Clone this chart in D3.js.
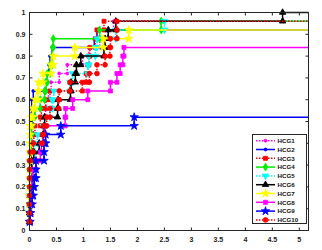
<!DOCTYPE html>
<html><head><meta charset="utf-8">
<script src="https://cdn.jsdelivr.net/npm/d3@7"></script>
<style>body{margin:0;background:#fff}svg{display:block}</style>
</head><body>
<svg id="c" width="322" height="250"></svg>
<script>
const xTicks = [0,0.5,1,1.5,2,2.5,3,3.5,4,4.5,5];
const yTicks = [0,0.1,0.2,0.3,0.4,0.5,0.6,0.7,0.8,0.9,1];
const seriesNames = ["HCG1","HCG2","HCG3","HCG4","HCG5","HCG6","HCG7","HCG8","HCG9","HCG10"];

const hcg1X = [0,0,0.01,0.01,0.02,0.02,0.03,0.03,0.05,0.06,0.06,0.07,0.07,0.3,0.3,0.35,0.4,0.55,0.7,0.98,1.1,1.3,1.45,1.56];
const hcg1Y = [0.04,0.08,0.12,0.16,0.2,0.24,0.28,0.32,0.36,0.4,0.44,0.48,0.52,0.56,0.6,0.64,0.68,0.72,0.76,0.8,0.84,0.88,0.92,0.96];
const hcg2X = [0,0,0,0.01,0.01,0.01,0.01,0.02,0.02,0.02,0.02,0.02,0.03,0.03,0.04,0.07,0.3,0.33,0.36,0.38,0.42,1.2,1.25];
const hcg2Y = [0.04,0.08,0.12,0.16,0.2,0.24,0.28,0.32,0.36,0.4,0.44,0.48,0.52,0.56,0.6,0.64,0.68,0.72,0.76,0.8,0.84,0.88,0.92];
const hcg3X = [0,0,0,0.01,0.01,0.01,0.02,0.02,0.03,0.05,0.08,0.1,0.2,0.22,0.3,0.38,0.98,1.05,1.08,1.1,1.12,1.22,1.25,1.38];
const hcg3Y = [0.04,0.08,0.12,0.16,0.2,0.24,0.28,0.32,0.36,0.4,0.44,0.48,0.52,0.56,0.6,0.64,0.68,0.72,0.76,0.8,0.84,0.88,0.92,0.96];
const hcg4X = [0,0,0,0.01,0.01,0.01,0.02,0.02,0.02,0.03,0.03,0.04,0.05,0.1,0.2,0.28,0.3,0.33,0.38,0.42,0.43,0.44,1.3,2.44];
const hcg4Y = [0.04,0.08,0.12,0.16,0.2,0.24,0.28,0.32,0.36,0.4,0.44,0.48,0.52,0.56,0.6,0.64,0.68,0.72,0.76,0.8,0.84,0.88,0.92,0.96];
const hcg5X = [0,0,0.01,0.01,0.02,0.02,0.03,0.04,0.06,0.1,0.15,0.25,0.3,0.38,0.42,0.45,0.75,0.8,1.08,1.1,1.22,1.25,1.6,2.5];
const hcg5Y = [0.04,0.08,0.12,0.16,0.2,0.24,0.28,0.32,0.36,0.4,0.44,0.48,0.52,0.56,0.6,0.64,0.68,0.72,0.76,0.8,0.84,0.88,0.92,0.96];
const hcg6X = [0,0,0.01,0.01,0.02,0.02,0.02,0.04,0.08,0.18,0.25,0.27,0.28,0.52,0.53,0.76,0.77,0.85,0.87,0.95,1.38,1.4,1.46,1.6,4.69];
const hcg6Y = [0.04,0.08,0.12,0.16,0.2,0.24,0.28,0.32,0.36,0.4,0.44,0.48,0.52,0.56,0.6,0.64,0.68,0.72,0.76,0.8,0.84,0.88,0.92,0.96,1.0];
const hcg7X = [0,0,0,0,0,0.01,0.01,0.01,0.01,0.01,0.01,0.01,0.03,0.06,0.1,0.16,0.17,0.25,0.4,0.44,0.84,1.37,1.84];
const hcg7Y = [0.04,0.08,0.12,0.16,0.2,0.24,0.28,0.32,0.36,0.4,0.44,0.48,0.52,0.56,0.6,0.64,0.68,0.72,0.76,0.8,0.84,0.88,0.92];
const hcg8X = [0,0.01,0.02,0.03,0.04,0.05,0.06,0.12,0.2,0.22,0.25,0.29,0.66,0.67,0.8,1.08,1.5,1.62,1.68,1.73,1.75];
const hcg8Y = [0.04,0.08,0.12,0.16,0.2,0.24,0.28,0.32,0.36,0.4,0.44,0.48,0.52,0.56,0.6,0.64,0.68,0.72,0.76,0.8,0.84];
const hcg9X = [0,0.01,0.02,0.05,0.07,0.09,0.12,0.12,0.27,0.27,0.3,0.58,1.94];
const hcg9Y = [0.04,0.08,0.12,0.16,0.2,0.24,0.28,0.32,0.36,0.4,0.44,0.48,0.52];
const hcg10X = [0,0,0,0,0,0,0,0,0.01,0.07,0.24,0.26,0.32,0.38,0.54,0.55,0.75,1.11,1.25,1.4,1.49,1.5,1.62,1.62];
const hcg10Y = [0.04,0.08,0.12,0.16,0.2,0.24,0.28,0.32,0.36,0.4,0.44,0.48,0.52,0.56,0.6,0.64,0.68,0.72,0.76,0.8,0.84,0.88,0.92,0.96];

const seriesX = [hcg1X,hcg2X,hcg3X,hcg4X,hcg5X,hcg6X,hcg7X,hcg8X,hcg9X,hcg10X];
const seriesY = [hcg1Y,hcg2Y,hcg3Y,hcg4Y,hcg5Y,hcg6Y,hcg7Y,hcg8Y,hcg9Y,hcg10Y];

const styles = [
  {color:"#ff00ff", dash:"1.5,1.5", sym:d3.symbolCircle, size:7, rot:0},
  {color:"#0000ff", dash:null, sym:d3.symbolCircle, size:7, rot:0},
  {color:"#ff0000", dash:"1.5,1.5", sym:d3.symbolSquare, size:16, rot:0},
  {color:"#00ee00", dash:null, sym:d3.symbolDiamond, size:18, rot:0},
  {color:"#00ffff", dash:"1.5,1.5", sym:d3.symbolTriangle, size:18, rot:180},
  {color:"#000000", dash:null, sym:d3.symbolTriangle, size:18, rot:0},
  {color:"#ffff00", dash:null, sym:d3.symbolStar, size:22, rot:0},
  {color:"#ff00ff", dash:null, sym:d3.symbolSquare, size:16, rot:0},
  {color:"#0000ff", dash:null, sym:d3.symbolStar, size:22, rot:0},
  {color:"#ff0000", dash:"1.5,1.5", sym:d3.symbolCircle, size:18, rot:0}
];

const L = 29.5, R = 308.5, T = 12.5, B = 230.5;
const x = d3.scaleLinear().domain([0, 5.17]).range([L, R]);
const y = d3.scaleLinear().domain([0, 1]).range([B, T]);
const svg = d3.select("#c");
const font = "Helvetica, Arial, 'Liberation Sans', sans-serif";

// series
const plot = svg.append("g");
seriesX.forEach((xs, i) => {
  const ys = seriesY[i], st = styles[i];
  const verts = [];
  for (let k = 0; k < xs.length; k++) {
    if (k > 0 && xs[k] !== xs[k-1]) verts.push([xs[k], ys[k-1]]);
    verts.push([xs[k], ys[k]]);
  }
  const path = verts.concat([[x.domain()[1], ys[ys.length-1]]]);
  plot.append("path")
    .attr("d", d3.line().x(d => x(d[0])).y(d => y(d[1]))(path))
    .attr("fill","none").attr("stroke",st.color).attr("stroke-width",1.5)
    .attr("stroke-dasharray", st.dash);
  plot.selectAll(null).data(verts).enter().append("path")
    .attr("d", d3.symbol().type(st.sym).size(st.size))
    .attr("transform", d => `translate(${x(d[0])},${y(d[1])}) rotate(${st.rot})`)
    .attr("fill", st.color).attr("stroke", st.color).attr("stroke-width", 0.8);
});

// frame and ticks
const ax = svg.append("g").attr("stroke","#262626").attr("stroke-width",1).attr("fill","none");
ax.append("rect").attr("x",L).attr("y",T).attr("width",R-L).attr("height",B-T);
xTicks.forEach(t => {
  ax.append("line").attr("x1",x(t)).attr("x2",x(t)).attr("y1",B).attr("y2",B-3);
  ax.append("line").attr("x1",x(t)).attr("x2",x(t)).attr("y1",T).attr("y2",T+3);
});
yTicks.forEach(t => {
  ax.append("line").attr("x1",L).attr("x2",L+3).attr("y1",y(t)).attr("y2",y(t));
  ax.append("line").attr("x1",R).attr("x2",R-3).attr("y1",y(t)).attr("y2",y(t));
});
svg.append("g").selectAll("text").data(xTicks).enter().append("text")
  .attr("x", d => x(d)).attr("y", 242).attr("text-anchor","middle")
  .attr("font-family",font).attr("font-size",7).attr("font-weight","bold").attr("fill","#222")
  .text(d => String(d));
svg.append("g").selectAll("text").data(yTicks).enter().append("text")
  .attr("x", 25.5).attr("y", d => y(d)+2.5).attr("text-anchor","end")
  .attr("font-family",font).attr("font-size",7).attr("font-weight","bold").attr("fill","#222")
  .text(d => String(d));

// legend
const lg = svg.append("g");
lg.append("rect").attr("x",252.5).attr("y",134.5).attr("width",54).attr("height",89)
  .attr("fill","#fff").attr("stroke","#262626").attr("stroke-width",1);
seriesNames.forEach((n, i) => {
  const st = styles[i], yy = 140.7 + i*8.8;
  lg.append("line").attr("x1",256).attr("x2",275).attr("y1",yy).attr("y2",yy)
    .attr("stroke",st.color).attr("stroke-width",1.5).attr("stroke-dasharray",st.dash);
  lg.append("path").attr("d", d3.symbol().type(st.sym).size(st.size))
    .attr("transform",`translate(265.5,${yy}) rotate(${st.rot})`)
    .attr("fill",st.color).attr("stroke",st.color).attr("stroke-width",0.8);
  lg.append("text").attr("x",277.5).attr("y",yy+2.2)
    .attr("font-family",font).attr("font-size",6.2).attr("font-weight","bold").attr("fill","#111")
    .text(n);
});
</script>
</body></html>
